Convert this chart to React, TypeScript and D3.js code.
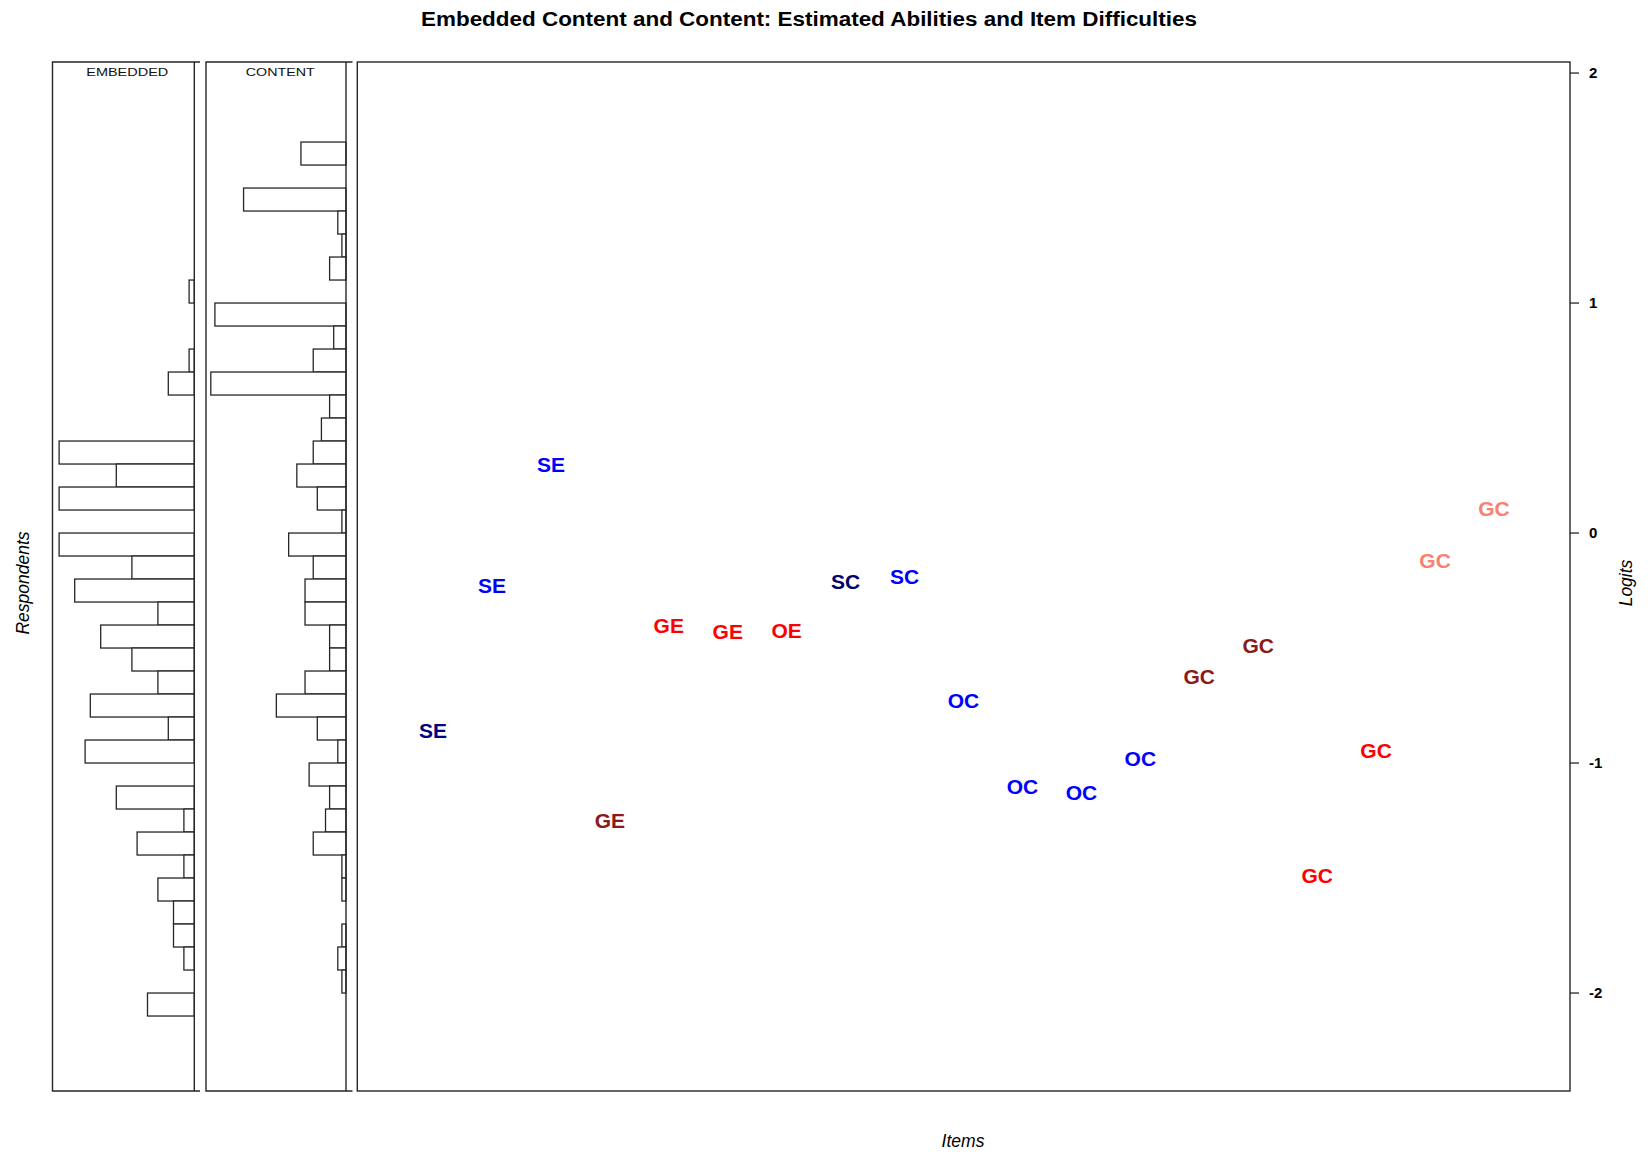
import React from 'react';
import { scaleLinear } from 'd3';

// person histogram bins (lower edge of each 0.1 logit bin)
const binStarts = [1.6, 1.5, 1.4, 1.3, 1.2, 1.1, 1.0, 0.9, 0.8, 0.7, 0.6, 0.5, 0.4, 0.3, 0.2, 0.1, 0.0,
  -0.1, -0.2, -0.3, -0.4, -0.5, -0.6, -0.7, -0.8, -0.9, -1.0, -1.1, -1.2, -1.3, -1.4, -1.5, -1.6,
  -1.7, -1.8, -1.9, -2.0, -2.1];
const binWidth = 0.1;

const embeddedCounts = [0, 0, 0, 0, 0, 0, 1, 0, 0, 1, 5, 0, 0, 26, 15, 26, 0, 26, 12, 23, 7, 18, 12, 7,
  20, 5, 21, 0, 15, 2, 11, 2, 7, 4, 4, 2, 0, 9];
const contentCounts = [11, 0, 25, 2, 1, 4, 0, 32, 3, 8, 33, 4, 6, 8, 12, 7, 1, 14, 8, 10, 10, 4, 4, 10,
  17, 7, 2, 9, 4, 5, 8, 1, 1, 0, 1, 2, 1, 0];

// items
const itemLabels = ['SE', 'SE', 'SE', 'GE', 'GE', 'GE', 'OE', 'SC', 'SC', 'OC', 'OC', 'OC', 'OC',
  'GC', 'GC', 'GC', 'GC', 'GC', 'GC'];
const itemDifficulty = [-0.86, -0.23, 0.3, -1.25, -0.4, -0.43, -0.425, -0.21, -0.19, -0.73, -1.1,
  -1.13, -0.98, -0.625, -0.49, -1.49, -0.945, -0.12, 0.105];
const itemColors = ['#000080', '#0000FF', '#0000FF', '#8B1A1A', '#FF0000', '#FF0000', '#FF0000',
  '#00006A', '#0000FF', '#0000FF', '#0000FF', '#0000FF', '#0000FF', '#8B1A1A', '#8B1A1A',
  '#FF0000', '#FF0000', '#FA8072', '#FA8072'];

const logitTicks = [2, 1, 0, -1, -2];

const W = 1648;
const H = 1160;
const top = 62;
const bottom = 1091;
const font = '"Liberation Sans", Arial, sans-serif';
const lineColor = '#262626';

const y = scaleLinear().domain([-2.426, 2.048]).range([bottom, top]);

const panels = [
  { name: 'EMBEDDED', left: 52.5, right: 200, base: 194.3, counts: embeddedCounts, labelLen: 82 },
  { name: 'CONTENT', left: 206, right: 352.5, base: 346, counts: contentCounts, labelLen: 69 },
];

const plotLeft = 357.3;
const plotRight = 1570;
const x = scaleLinear().domain([1, 19]).range([433, 1494]);

const Histogram = ({ p }) => {
  const maxCount = Math.max(...p.counts);
  const len = scaleLinear().domain([0, maxCount]).range([0, 135.2]);
  return (
    <g>
      {binStarts.map((b, i) => {
        const c = p.counts[i];
        if (!c) return null;
        const y0 = y(b + binWidth);
        const y1 = y(b);
        return (
          <rect key={i} x={p.base - len(c)} y={y0} width={len(c)} height={y1 - y0}
            fill="white" stroke={lineColor} strokeWidth={1.3} />
        );
      })}
      <line x1={p.base} x2={p.base} y1={top} y2={bottom} stroke={lineColor} strokeWidth={1.4} />
      <path d={`M${p.right},${top}H${p.left}V${bottom}H${p.right}`} fill="none"
        stroke={lineColor} strokeWidth={1.4} />
      <text x={(p.left + p.right) / 2 + 1} y={76.3} textAnchor="middle" fontSize={11.5}
        fontFamily={font} fill="#111" textLength={p.labelLen} lengthAdjust="spacingAndGlyphs">
        {p.name}
      </text>
    </g>
  );
};

export default function App() {
  return (
    <svg width={W} height={H} style={{ position: 'absolute', left: 0, top: 0, background: 'white' }}>
      <rect width={W} height={H} fill="white" />
      <text x={809} y={26} textAnchor="middle" fontSize={20} fontWeight="bold" fontFamily={font}
        textLength={776} lengthAdjust="spacingAndGlyphs">
        Embedded Content and Content: Estimated Abilities and Item Difficulties
      </text>

      {panels.map(p => <Histogram key={p.name} p={p} />)}

      <rect x={plotLeft} y={top} width={plotRight - plotLeft} height={bottom - top} fill="none"
        stroke={lineColor} strokeWidth={1.4} />

      {itemLabels.map((lab, i) => (
        <text key={i} x={x(i + 1)} y={y(itemDifficulty[i])} dy="0.36em" textAnchor="middle"
          fontSize={21} fontWeight="bold" fontFamily={font} fill={itemColors[i]}>
          {lab}
        </text>
      ))}

      {logitTicks.map(t => (
        <g key={t}>
          <line x1={plotRight} x2={plotRight + 9} y1={y(t)} y2={y(t)} stroke={lineColor} strokeWidth={1.3} />
          <text x={plotRight + 19} y={y(t)} dy="0.36em" fontSize={15} fontWeight="bold" fontFamily={font}>
            {t < 0 ? `-${Math.abs(t)}` : t}
          </text>
        </g>
      ))}

      <text transform={`translate(29,583) rotate(-90)`} textAnchor="middle" fontSize={17.5}
        fontStyle="italic" fontFamily={font}>Respondents</text>
      <text transform={`translate(1632,583) rotate(-90)`} textAnchor="middle" fontSize={17.5}
        fontStyle="italic" fontFamily={font}>Logits</text>
      <text x={963} y={1147} textAnchor="middle" fontSize={17.5} fontStyle="italic"
        fontFamily={font}>Items</text>
    </svg>
  );
}
